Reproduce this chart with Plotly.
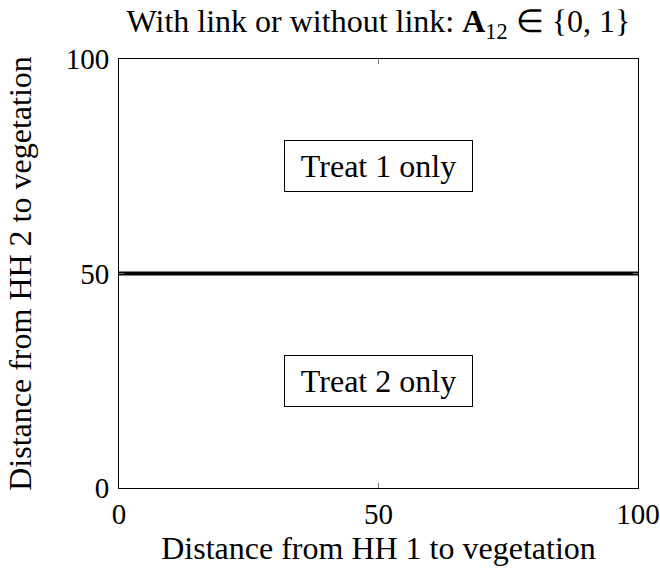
import plotly.graph_objects as go

# decision boundary between the two treatment regions
boundary_x = [0, 100]
boundary_y = [50, 50]

# region labels
region_labels = ["Treat 1 only", "Treat 2 only"]
region_x = [50, 50]
region_y = [75, 25]

tick_vals = [0, 50, 100]

FONT = "Liberation Serif"
FS = 32      # titles / labels
FS_TICK = 29

fig = go.Figure()
fig.add_trace(go.Scatter(x=boundary_x, y=boundary_y, mode="lines",
                         line=dict(color="black", width=4), showlegend=False,
                         hoverinfo="skip", cliponaxis=True))

for txt, xx, yy in zip(region_labels, region_x, region_y):
    fig.add_annotation(x=xx, y=yy, text=txt, showarrow=False,
                       font=dict(family=FONT, size=FS, color="black"),
                       bordercolor="black", borderwidth=1, borderpad=6,
                       bgcolor="white", width=175, height=38)

axis_common = dict(range=[0, 100], tickvals=tick_vals, showgrid=False, zeroline=False,
                   showline=True, linecolor="black", linewidth=1, mirror="ticks",
                   ticks="inside", ticklen=5, tickcolor="#777", tickwidth=1,
                   automargin=False,
                   tickfont=dict(family=FONT, size=FS_TICK, color="black"))

fig.update_xaxes(**axis_common, title=dict(text="Distance from HH 1 to vegetation",
                 font=dict(family=FONT, size=FS, color="black"), standoff=4))
fig.update_yaxes(**axis_common, ticklabelstandoff=3,
                 title=dict(text="Distance from HH 2 to vegetation",
                 font=dict(family=FONT, size=FS, color="black"), standoff=24))

fig.update_layout(
    width=660, height=573,
    margin=dict(l=119, r=22, t=59, b=85),
    plot_bgcolor="white", paper_bgcolor="white",
    title=dict(text="With link or without link: <b>A</b><sub>12</sub> \u2208 {0, 1}",
               font=dict(family=FONT, size=FS, color="black"),
               x=0.5, xref="paper", xanchor="center",
               y=1 - 21 / 573, yref="container", yanchor="middle"),
)

# drop the default page margin so the figure sits at the window origin
fig.write_html("out.html", config={"displayModeBar": False},
               post_script="document.body.style.margin='0';document.body.style.overflow='hidden';")
